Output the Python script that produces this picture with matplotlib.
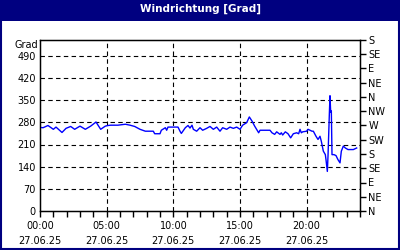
import matplotlib
matplotlib.use("Agg")
import matplotlib.pyplot as plt
from matplotlib.patches import Rectangle

# Stunden seit 00:00 und Windrichtung in Grad
stunden = [0.0, 0.23, 0.6, 1.0, 1.2, 1.65, 1.95, 2.3, 2.6, 3.0, 3.4, 3.8, 4.2, 4.55,
           4.9, 5.1, 5.3, 5.85, 6.4, 6.75, 7.1, 7.5, 7.9, 8.5, 8.6, 9.0, 9.1, 9.4,
           9.5, 9.6, 10.35, 10.5, 10.6, 10.9, 11.1, 11.25, 11.4, 11.5, 11.75, 12.0,
           12.2, 12.5, 12.75, 13.0, 13.25, 13.5, 13.7, 14.0, 14.25, 14.5, 14.75,
           15.0, 15.2, 15.5, 15.7, 15.9, 16.1, 16.4, 16.5, 17.25, 17.4, 17.6,
           17.75, 18.0, 18.1, 18.2, 18.4, 18.6, 18.8, 19.0, 19.25, 19.4, 19.5,
           19.6, 19.7, 20.0, 20.1, 20.4, 20.5, 20.7, 20.85, 21.0, 21.1, 21.25,
           21.4, 21.45, 21.55, 21.6, 21.7, 21.75, 21.8, 21.85, 21.9, 22.05, 22.2,
           22.35, 22.5, 22.6, 22.75, 22.9, 23.1, 23.5, 23.6, 23.75]
grad = [264, 263, 270, 258, 265, 248, 261, 267, 258, 268, 258, 268, 281, 258,
        268, 270, 271, 271, 274, 271, 267, 258, 252, 252, 244, 244, 255, 263,
        255, 265, 265, 252, 245, 263, 270, 262, 271, 258, 252, 263,
        255, 261, 267, 258, 265, 252, 263, 258, 265, 261, 265,
        258, 271, 279, 297, 284, 268, 247, 255, 255, 247, 242,
        250, 242, 247, 240, 250, 244, 231, 244, 247, 244, 258,
        247, 250, 252, 258, 252, 252, 236, 226, 236, 220, 189,
        178, 162, 125, 173, 305, 364, 312, 316, 178, 178, 175,
        162, 152, 189, 205, 199, 194, 194, 196, 199]

x_ticks = [0, 5, 10, 15, 20]
x_labels = ["00:00\n27.06.25", "05:00\n27.06.25", "10:00\n27.06.25",
            "15:00\n27.06.25", "20:00\n27.06.25"]
y_ticks = [0, 70, 140, 210, 280, 350, 420, 490]
richtung_ticks = [0, 45, 90, 135, 180, 225, 270, 315, 360, 405, 450, 495, 540]
richtung_labels = ["N", "NE", "E", "SE", "S", "SW", "W", "NW",
                   "N", "NE", "E", "SE", "S"]

navy = "#000080"
fs = 7

fig = plt.figure(figsize=(4, 2.5), dpi=100)
fig.patch.set_facecolor("white")

# Titelleiste und Rahmen
fig.patches.append(Rectangle((0, 0.918), 1, 0.082, transform=fig.transFigure,
                             facecolor=navy, edgecolor="none", zorder=0))
fig.patches.append(Rectangle((0.002, 0.003), 0.995, 0.994, transform=fig.transFigure,
                             facecolor="none", edgecolor=navy, lw=1.5, zorder=1))
fig.text(0.5, 0.966, "Windrichtung [Grad]", color="white", fontsize=7.5,
         fontweight="bold", ha="center", va="center")

ax = fig.add_axes([0.1, 0.156, 0.8, 0.684])
ax.plot(stunden, grad, color="#0000ff", lw=1.0, zorder=3)

ax.set_xlim(0, 24)
ax.set_ylim(0, 540)
ax.set_xticks(x_ticks)
ax.set_xticklabels(x_labels, fontsize=fs, linespacing=1.7)
ax.set_xticks(range(25), minor=True)
ax.tick_params(axis="x", which="both", direction="out", length=4, width=1,
               pad=3, top=False)
ax.set_yticks(y_ticks)
ax.set_yticklabels([str(v) for v in y_ticks], fontsize=fs)
ax.tick_params(axis="y", length=0, pad=3)

for v in y_ticks[1:]:
    ax.axhline(v, color="black", lw=0.8, ls=(0, (4, 3)), zorder=1)
for v in x_ticks[1:]:
    ax.axvline(v, color="black", lw=0.8, ls=(0, (4, 3)), zorder=1)

for s in ax.spines.values():
    s.set_linewidth(1)
    s.set_color("black")

ax.text(-0.005, 1.0, "Grad", transform=ax.transAxes, fontsize=fs,
        ha="right", va="top")

ax2 = ax.twinx()
ax2.set_ylim(0, 540)
ax2.set_yticks(richtung_ticks)
ax2.set_yticklabels(richtung_labels, fontsize=fs)
ax2.tick_params(axis="y", direction="out", length=4, width=1, pad=2)

fig.savefig("out.png", dpi=100)
